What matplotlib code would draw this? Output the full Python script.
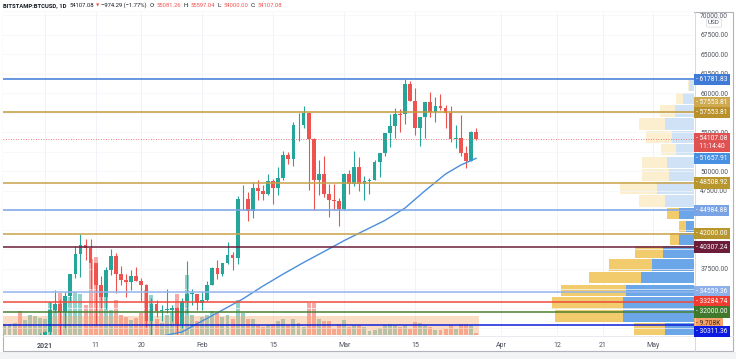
import matplotlib
matplotlib.use('Agg')
import matplotlib.pyplot as plt
import matplotlib.dates as mdates
import numpy as np
import pandas as pd
from matplotlib import font_manager
from matplotlib.patches import Rectangle
from matplotlib.lines import Line2D

plt.rcParams['font.family'] = ['Roboto', 'DejaVu Sans']

# ---------------- data ----------------
dates = pd.date_range('2020-12-24', '2021-03-27', freq='D')

opens = [23240, 23730, 24710, 26450, 26260, 27040, 27360, 28880,
         28990, 29390, 32200, 33000, 31990, 33990, 36820, 39400, 40630, 40240,
         38240, 35500, 33900, 37400, 39200, 36800, 36100, 35800, 36600, 36000,
         35500, 30800, 33000, 32100, 32300, 32300, 32500, 30400, 33400, 34300, 34300,
         33100, 33500, 35500, 37600, 36900, 38300, 39300, 38900, 46400, 46500,
         44900, 47900, 47500, 47100, 48700, 47900, 49200, 52100, 51600, 55900,
         55900, 57400, 54100, 48900, 49700, 47100, 46300, 46200,
         45200, 49600, 48400, 50500, 48400, 48800, 48900, 51200, 52300, 54900,
         55800, 57300, 57300, 61200, 59000, 55600, 56900, 58900, 57600, 58300,
         58100, 57400, 54100, 54300, 52300, 51300, 55081.26]
highs = [23770, 24780, 26870, 28400, 27500, 27380, 28990, 29300,
         29600, 33300, 34800, 33600, 34500, 36900, 40400, 41950, 41400, 41400,
         38300, 36600, 37800, 40000, 39600, 37900, 36800, 37400, 37800, 36400,
         35600, 33800, 33500, 32900, 34900, 32900, 32600, 33800, 38500, 34900, 34300,
         34700, 35900, 37700, 38700, 38300, 40900, 39700, 46800, 48200, 47300,
         48600, 48900, 48200, 49700, 49000, 50600, 52600, 52500, 56300, 57500,
         58350, 57500, 54200, 51400, 52000, 48400, 48400, 46600,
         49800, 50200, 52600, 51800, 49400, 49200, 51400, 52400, 54900, 57300,
         58100, 58000, 61781.83, 61600, 60600, 56900, 58900, 60100, 59500, 59900,
         58500, 58400, 55900, 57200, 53200, 55100, 55597.04]
lows = [22700, 23420, 24500, 25850, 26100, 25870, 27330, 27850,
        28700, 28950, 32000, 28130, 29900, 33300, 36300, 36500, 38700, 35000,
        30300, 32500, 32400, 36700, 34400, 35400, 33900, 34800, 35900, 33400,
        30100, 28800, 31400, 30900, 31900, 30800, 29200, 29900, 31900, 32900, 32300,
        32300, 33400, 35400, 36200, 36600, 38200, 37400, 38100, 45000, 43700,
        44000, 46300, 46300, 47000, 45800, 47000, 48900, 50900, 50700, 53900,
        55500, 47600, 45000, 47000, 46700, 44100, 45000, 43000,
        45100, 47100, 48100, 47500, 46300, 47100, 48900, 49300, 51900, 53100,
        54300, 55000, 56100, 59000, 54600, 53300, 54200, 57000, 56300, 57900,
        55500, 53700, 53000, 52000, 50400, 51300, 54000.00]
closes = [23730, 24710, 26450, 26260, 27040, 27360, 28880, 28990,
          29390, 32200, 33000, 31990, 33990, 36820, 39400, 40630, 40240, 38240,
          35500, 33900, 37400, 39200, 36800, 36100, 35800, 36600, 36000, 35500,
          30800, 33000, 32100, 32300, 32350, 32500, 30400, 33400, 34300, 34350, 33100,
          33500, 35500, 37600, 36900, 38300, 39300, 38900, 46400, 46500, 44900,
          47900, 47500, 47100, 48700, 47900, 49200, 52100, 51600, 55900, 55950,
          57400, 54100, 48900, 49700, 47100, 46300, 46200, 45200,
          49600, 48400, 50500, 48400, 48800, 48900, 51200, 52300, 54900, 55800,
          57300, 57250, 61200, 59000, 55600, 56900, 58900, 57600, 58300, 58100,
          57400, 54100, 54300, 52300, 51300, 55000, 54107.08]
# volume, thousand BTC
volumes = [6.1, 6.1, 6.6, 13.2, 8.3, 11.0, 10.5, 9.4,
           8.8, 18.2, 15.4, 23.1, 16.5, 20.9, 23.7, 22.6, 16.5, 41.8,
           42.9, 27.5, 22.0, 13.8, 19.3, 11.0, 9.9, 8.3, 9.4, 12.1,
           24.8, 22.0, 8.8, 6.6, 11.0, 12.1, 22.6, 13.8, 33.0, 11.0, 7.7,
           9.9, 11.0, 13.2, 12.1, 9.9, 11.0, 8.8, 19.3, 12.1, 8.8,
           8.8, 5.5, 4.4, 5.5, 6.1, 7.7, 8.8, 5.5, 8.8, 6.6,
           4.4, 17.6, 17.6, 8.8, 7.7, 7.7, 3.3, 6.1,
           8.3, 4.4, 5.5, 5.5, 4.4, 2.2, 2.8, 3.9, 5.5, 6.1,
           5.5, 4.4, 5.5, 3.3, 7.2, 6.6, 5.5, 4.4, 2.8, 2.8,
           3.3, 5.5, 3.3, 6.1, 6.1, 5.5, 1.1]
volume_label = 9.708

# 50-day moving average (read at a few points)
ma_dates = pd.to_datetime(['2021-01-24', '2021-01-28', '2021-02-01', '2021-02-05',
                           '2021-02-09', '2021-02-13', '2021-02-17', '2021-02-21',
                           '2021-02-25', '2021-03-01', '2021-03-05', '2021-03-09',
                           '2021-03-13', '2021-03-17', '2021-03-21', '2021-03-24',
                           '2021-03-27'])
ma_values = [28900, 29440, 30840, 32250, 33660, 35320, 36860, 38330, 39720,
             41130, 42420, 43700, 45300, 47540, 49650, 50800, 51657.91]

levels = [61781.83, 57553.81, 48508.92, 44984.88, 42000.00, 40307.24,
          34559.36, 33284.74, 32000.00, 30311.36]
level_colors = ['#3f7bd6', '#c49a3a', '#c8a248', '#7aa3e5', '#c8a248',
                '#6b1d3a', '#92b4ec', '#ef4a3a', '#4a8030', '#1020d8']
last_price = 54107.08

# visible range volume profile, rows from the top
vp_top = 61781.83
vp_step = 1638
vp_up = [5, 11, 19, 29, 22, 18, 27, 25, 37, 29, 15, 8, 15, 31, 42, 53, 68, 71, 71, 29]
vp_down = [1, 7, 15, 26, 26, 15, 25, 27, 37, 26, 12, 7, 9, 28, 43, 52, 65, 71, 68, 31]
vp_outside = 10  # first rows lie outside the value area

# price scale labels that are not hidden behind the line labels
price_ticks = [37500, 47500, 50000, 55000, 60000, 62500, 65000, 67500, 70000]
time_ticks = pd.to_datetime(['2021-01-01', '2021-01-11', '2021-01-20', '2021-02-01',
                             '2021-02-15', '2021-03-01', '2021-03-15', '2021-04-01',
                             '2021-04-12', '2021-04-21', '2021-05-01'])
time_labels = ['2021', '11', '20', 'Feb', '15', 'Mar', '15', 'Apr', '12', '21', 'May']

# ---------------- layout ----------------
W, H = 736, 359
fig = plt.figure(figsize=(W / 100, H / 100), dpi=100)
L, R, T, B = 3, 694, 12, 335
rect = [L / W, 1 - B / H, (R - L) / W, (B - T) / H]

UP, DOWN = '#26a69a', '#ef5350'
x = mdates.date2num(dates)
jan1 = mdates.date2num(pd.Timestamp('2021-01-01'))
xlim = (jan1 - 8.28, jan1 + 128.0)
ylim = (29053, 70384)

ax_vol = fig.add_axes(rect, zorder=1)
ax_vp = fig.add_axes(rect, zorder=2)
ax = fig.add_axes(rect, zorder=3)
for a in (ax_vol, ax_vp, ax):
    a.set_xlim(*xlim)
    for s in a.spines.values():
        s.set_visible(False)
ax_vp.patch.set_visible(False)
ax.patch.set_visible(False)

# grid and volume
for t in mdates.date2num(time_ticks):
    ax_vol.axvline(t, color='#eef1f6', lw=0.6, zorder=0)
ax_vol.set_ylim(0, 323 * 0.55)
ax_vol.set_xticks([])
ax_vol.set_yticks([])
up = np.array(closes) >= np.array(opens)
vol_colors = np.where(up, '#93d2ca', '#f6a9a4')
ax_vol.bar(x, volumes, width=0.78, color=vol_colors, zorder=2)

# volume profile
ax_vp.set_ylim(*ylim)
ax_vp.set_xlim(691, 0)
ax_vp.set_xticks([])
ax_vp.set_yticks([])
centers = [vp_top - (i + 0.5) * vp_step for i in range(len(vp_up))]
for i, (c, u, d) in enumerate(zip(centers, vp_up, vp_down)):
    inside = i >= vp_outside
    cu = '#6aa6e8' if inside else '#cfe2f6'
    cd = '#f2cb6c' if inside else '#fcefd0'
    ax_vp.barh(c, u, left=0, height=vp_step * 0.9, color=cu, lw=0)
    ax_vp.barh(c, d, left=u, height=vp_step * 0.9, color=cd, lw=0)

# main price pane
ax.set_ylim(*ylim)
for t in range(30000, 70001, 2500):
    ax.axhline(t, color='#f3f5f9', lw=0.5, zorder=0)
ax.add_patch(Rectangle((xlim[0], ylim[0]), x[-1] + 0.5 - xlim[0], 31520 - ylim[0],
                       facecolor='#f7a66b', alpha=0.38, lw=0, zorder=0.5))

colors = np.where(up, UP, DOWN)
ax.vlines(x, lows, highs, colors=colors, lw=0.8, zorder=3)
bodies = np.maximum(np.abs(np.array(closes) - np.array(opens)), 70)
ax.bar(x, bodies, bottom=np.minimum(opens, closes), width=0.74, color=colors, lw=0, zorder=4)

ax.plot(mdates.date2num(ma_dates), ma_values, color='#4a8fdb', lw=1.0, zorder=5)

for lv, lc in zip(levels, level_colors):
    ax.axhline(lv, color=lc, lw=1.1, zorder=6)
ax.axhline(last_price, color=DOWN, lw=0.6, ls=(0, (1, 2)), zorder=6)

# axes ticks
ax.yaxis.tick_right()
ax.set_yticks(price_ticks)
ax.set_yticklabels(['%.2f' % t for t in price_ticks])
ax.tick_params(axis='y', length=0, pad=4.5, labelsize=4.8, labelcolor='#50535e')
ax.set_xticks(mdates.date2num(time_ticks))
ax.set_xticklabels(time_labels)
ax.tick_params(axis='x', length=0, pad=5, labelsize=5.0, labelcolor='#50535e')
ax.get_xticklabels()[0].set_fontweight('bold')


def price_label(axis, y, text, fc, tc='white', dy=0):
    axis.annotate(text, xy=(1, y), xycoords=('axes fraction', 'data'),
                  xytext=(1.6, -dy * 0.72), textcoords='offset points',
                  ha='left', va='center', fontsize=4.8, color=tc, linespacing=1.1,
                  bbox=dict(boxstyle='square,pad=0.32', fc=fc, ec='none'),
                  annotation_clip=False, zorder=10)


price_label(ax, 61781.83, '- 61781.83', '#3f7bd6')
price_label(ax, 57553.81, '- 57553.81', '#cfa94e', dy=-9.5)
price_label(ax, 57553.81, '- 57553.81', '#b8912c')
price_label(ax, last_price, '- 54107.08\n  11:14:40', '#e05252', dy=3.5)
price_label(ax, 51657.91, '- 51657.91', '#4a90e2')
price_label(ax, 48508.92, '- 48508.92', '#b8962e')
price_label(ax, 44984.88, '- 44984.88', '#7aa3e5')
price_label(ax, 42000.00, '- 42000.00', '#b8962e')
price_label(ax, 40307.24, '- 40307.24', '#6b1d3a')
price_label(ax, 34559.36, '- 34559.36', '#8db0ea')
price_label(ax, 33284.74, '- 33284.74', '#f03c30')
price_label(ax, 32000.00, '- 32000.00', '#3f7a2c')
price_label(ax_vol, volume_label, '- 9.708K', '#f5a36a', tc='#3a2a1a', dy=5.9)
price_label(ax, 30311.36, '- 30311.36', '#0a1ae0', dy=6.6)

fig.text(714 / W, 1 - 23 / H, 'USD', fontsize=4.6, color='#50535e', ha='center', va='center',
         bbox=dict(boxstyle='round,pad=0.25', fc='white', ec='#d6d9e0', lw=0.5))

# frame
fig.patches.append(Rectangle((0, 0), 1, 1 - 352 / H, transform=fig.transFigure,
                             fc='#f2f3f5', ec='none', zorder=0))
fig.add_artist(Rectangle((3 / W, 1 - 351 / H), 730 / W, 339 / H, transform=fig.transFigure,
                         fill=False, ec='#b0b3ba', lw=0.8))
fig.add_artist(Line2D([694.5 / W] * 2, [1 - 12 / H, 1 - 351 / H], transform=fig.transFigure,
                      color='#d0d3da', lw=0.6))
fig.add_artist(Line2D([3 / W, 733 / W], [1 - 335.5 / H] * 2, transform=fig.transFigure,
                      color='#e3e6ec', lw=0.6))

# header line, pieces laid out one after another and fitted to the width seen
names = {f.name for f in font_manager.fontManager.ttflist}
head_family = ['Liberation Sans Narrow', 'DejaVu Sans'] if 'Liberation Sans Narrow' in names \
    else ['Roboto', 'DejaVu Sans']
dark = '#131722'
pieces = [('BITSTAMP:BTCUSD, 1D', dark, 'bold', 3), ('54107.08', dark, 'normal', 2),
          ('\u25bc', DOWN, 'normal', 1.5), ('\u2212974.29 (\u22121.77%)', dark, 'normal', 3),
          ('O:', dark, 'normal', 1), ('55081.26', DOWN, 'normal', 3),
          ('H:', dark, 'normal', 1), ('55597.04', DOWN, 'normal', 3),
          ('L:', dark, 'normal', 1), ('54000.00', DOWN, 'normal', 3),
          ('C:', dark, 'normal', 1), ('54107.08', DOWN, 'normal', 0)]
renderer = fig.canvas.get_renderer()
hy = 1 - 5.5 / H


def header(size):
    xpos = 3
    arts = []
    for txt, col, wt, gap in pieces:
        fs = size * 0.75 if txt == '\u25bc' else size
        t = fig.text(xpos / W, hy, txt, fontsize=fs, weight=wt, color=col, va='center',
                     family=head_family)
        xpos += t.get_window_extent(renderer).width + gap
        arts.append(t)
    return arts, xpos


gaps = sum(p[3] for p in pieces)
arts, end = header(6.0)
size = 6.0 * (282 - 3 - gaps) / (end - 3 - gaps)
for a in arts:
    a.remove()
header(min(size, 6.2))

fig.savefig('out.png', dpi=100)
